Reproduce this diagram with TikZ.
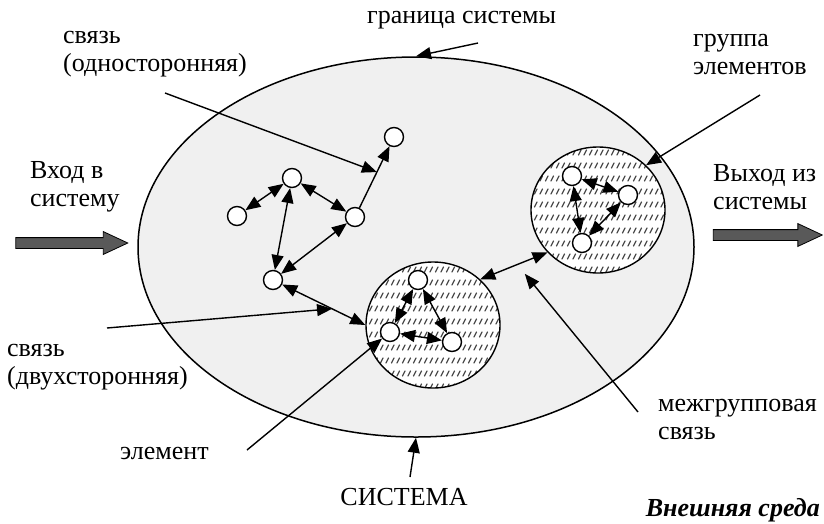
\documentclass[tikz,border=0pt]{standalone}
\usepackage{fontspec}
\setmainfont{Liberation Serif}
\usetikzlibrary{arrows.meta,shapes.geometric,shapes.arrows,patterns}

\pgfdeclarepatternformonly{slashes}{\pgfqpoint{-1pt}{-1pt}}{\pgfqpoint{6.5pt}{14pt}}{\pgfqpoint{5.5pt}{13pt}}{%
  \pgfsetlinewidth{1.2pt}\pgfsetroundcap
  \pgfpathmoveto{\pgfqpoint{1pt}{4pt}}\pgfpathlineto{\pgfqpoint{3.5pt}{9pt}}\pgfusepath{stroke}}

\tikzset{
  blk/.tip={Triangle[length=15pt,width=12pt]},
  elem/.style={circle,draw,fill=white,line width=1.4pt,minimum size=19pt,inner sep=0pt},
  grp/.style={ellipse,draw,line width=1.4pt,minimum width=134pt,minimum height=126pt,
    preaction={fill=white},pattern=slashes,pattern color=black!70},
  link2/.style={line width=1.4pt,blk-blk},
  link1/.style={line width=1.4pt,-blk},
  pointer/.style={line width=1.4pt,-blk},
  lbl/.style={font=\fontsize{26}{28}\selectfont,inner sep=0pt,align=left},
  bigarrow/.style={single arrow,draw,fill=black!65,line width=0.8pt,inner sep=5pt,
    single arrow head extend=6pt,single arrow tip angle=50}
}

\begin{document}
\begin{tikzpicture}[x=1pt,y=-1pt]
	\useasboundingbox (0,0) rectangle (824,523);
	% system boundary
	\node[ellipse,draw,fill=black!6,line width=1.5pt,minimum width=556pt,minimum height=380pt,inner sep=0pt] (sys) at (416,247) {};
	% groups
	\node[grp] (g1) at (433,325) {};
	\node[grp] (g2) at (598,210) {};
	% elements
	\node[elem] (e1) at (237,216) {};
	\node[elem] (e2) at (292,178) {};
	\node[elem] (e3) at (355,217) {};
	\node[elem] (e4) at (394,137) {};
	\node[elem] (e5) at (273,280) {};
	\node[elem] (g1a) at (418,280) {};
	\node[elem] (g1b) at (390,332) {};
	\node[elem] (g1c) at (452,342) {};
	\node[elem] (g2a) at (572,176) {};
	\node[elem] (g2b) at (628,195) {};
	\node[elem] (g2c) at (582,243) {};
	% links
	\draw[link2] (e1) -- (e2);
	\draw[link2] (e2) -- (e3);
	\draw[link1] (e3) -- coordinate[pos=.58] (c1) (e4);
	\draw[link2] (e2) -- (e5);
	\draw[link2] (e3) -- (e5);
	\draw[link2] (e5) -- coordinate[pos=.6] (c2) (g1.west);
	\draw[link2] (g1a) -- (g1b);
	\draw[link2] (g1a) -- (g1c);
	\draw[link2] (g1b) -- (g1c);
	\draw[link2] (g2a) -- (g2b);
	\draw[link2] (g2a) -- (g2c);
	\draw[link2] (g2b) -- (g2c);
	\draw[link2] (g1.44) -- coordinate[pos=.55] (c3) (g2.220);
	% input / output
	\node[bigarrow,minimum height=112pt] (inarr) at (66,243) {};
	\node[bigarrow,minimum height=109pt] (outarr) at (762,235) {};
	% labels
	\node[lbl,anchor=west] (tborder) at (367,20) {граница системы};
	\node[lbl,anchor=west] (tlink1) at (63,54) {связь\\(односторонняя)};
	\node[lbl,anchor=west] (tgroup) at (693,54) {группа\\элементов};
	\node[lbl,anchor=west] (tin) at (30,187) {Вход в\\систему};
	\node[lbl,anchor=west] (tout) at (713,187) {Выход из\\системы};
	\node[lbl,anchor=west] (tlink2) at (7,367) {связь\\(двухсторонняя)};
	\node[lbl,anchor=west] (telem) at (120,453) {элемент};
	\node[lbl,anchor=west] (tinter) at (658,419) {межгрупповая\\связь};
	\node[lbl] (tsys) at (404,497) {СИСТЕМА};
	\node[lbl,anchor=base east,font=\fontsize{26}{28}\selectfont\bfseries\itshape] (tenv) at (820,516) {Внешняя среда};
	% pointers
	\coordinate (a1) at (478,43);
	\coordinate (a2) at (165,93);
	\coordinate (a3) at (760,95);
	\coordinate (a4) at (107,328);
	\coordinate (a5) at (247,450);
	\coordinate (a6) at (638,412);
	\coordinate (a7) at (410,477);
	\draw[pointer] (a1) -- (sys.north);
	\draw[pointer] (a2) -- (c1);
	\draw[pointer] (a3) -- (g2.43);
	\draw[pointer] (a4) -- (c2);
	\draw[pointer] (a5) -- (g1b);
	\draw[pointer,shorten >=12pt] (a6) -- (c3);
	\draw[pointer] (a7) -- (sys.south);
\end{tikzpicture}
\end{document}
